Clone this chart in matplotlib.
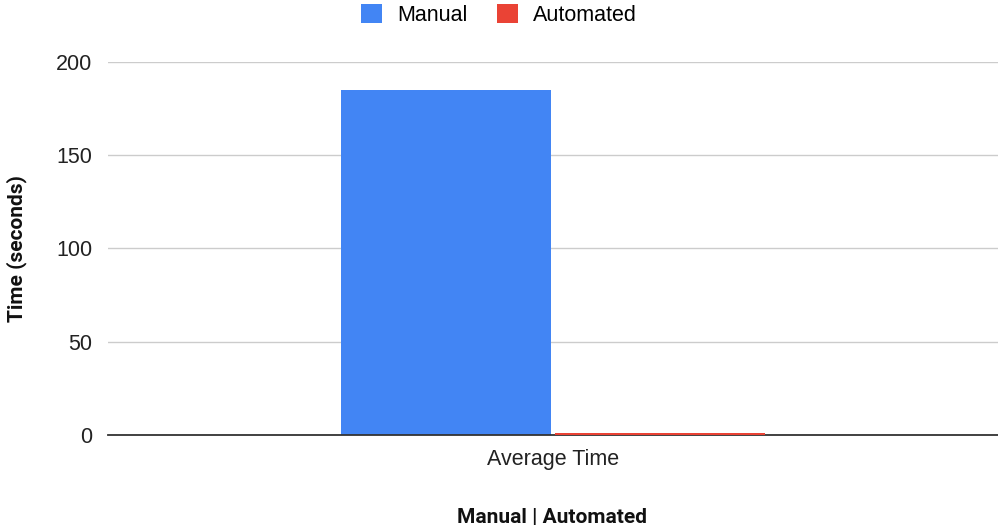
import matplotlib
matplotlib.use("Agg")
from matplotlib import pyplot as plt

# datos
categorias = ["Average Time"]
series = ["Manual", "Automated"]
valores_manual = [185]
valores_auto = [1.0]
colores = ["#4285f4", "#ea4335"]

plt.rcParams['font.family'] = ['Liberation Sans', 'DejaVu Sans']

fig = plt.figure(figsize=(9.98, 5.29), dpi=100)
ax = fig.add_axes([0.108, 0.178, 0.892, 0.705])

ancho = 0.236
x = list(range(len(categorias)))
ax.bar([i - ancho / 2 - 0.002 for i in x], valores_manual, ancho, color=colores[0], label=series[0], zorder=3)
ax.bar([i + ancho / 2 + 0.002 for i in x], valores_auto, ancho, color=colores[1], label=series[1], zorder=6)

ax.set_xlim(-0.5, 0.5)
ax.set_ylim(0, 200)
ax.set_yticks([0, 50, 100, 150, 200])
ax.set_xticks(x)
ax.set_xticklabels(categorias)
ax.tick_params(axis='both', length=0, labelsize=15.5, colors='#222222')
ax.tick_params(axis='y', pad=11)
ax.tick_params(axis='x', pad=10)
ax.grid(axis='y', color='#cccccc', linewidth=1)
ax.set_axisbelow(True)
for s in ['top', 'right', 'left']:
    ax.spines[s].set_visible(False)
ax.spines['bottom'].set_color('#333333')
ax.spines['bottom'].set_linewidth(1.3)
ax.spines['bottom'].set_zorder(5)

fig.text(0.017, 0.53, "Time (seconds)", rotation=90, ha='center', va='center',
         fontsize=15, fontweight='bold', color='#111111', family=['Roboto', 'DejaVu Sans'])
fig.text(0.553, 0.022, "Manual | Automated", ha='center', va='center',
         fontsize=15, fontweight='bold', color='#111111', family=['Roboto', 'DejaVu Sans'])

fig.legend(loc='center', bbox_to_anchor=(0.5, 0.971), ncol=2, frameon=False,
           fontsize=15.5, handlelength=0.97, handleheight=0.97, columnspacing=1.4,
           handletextpad=0.7)

plt.savefig("out.png", dpi=100)
